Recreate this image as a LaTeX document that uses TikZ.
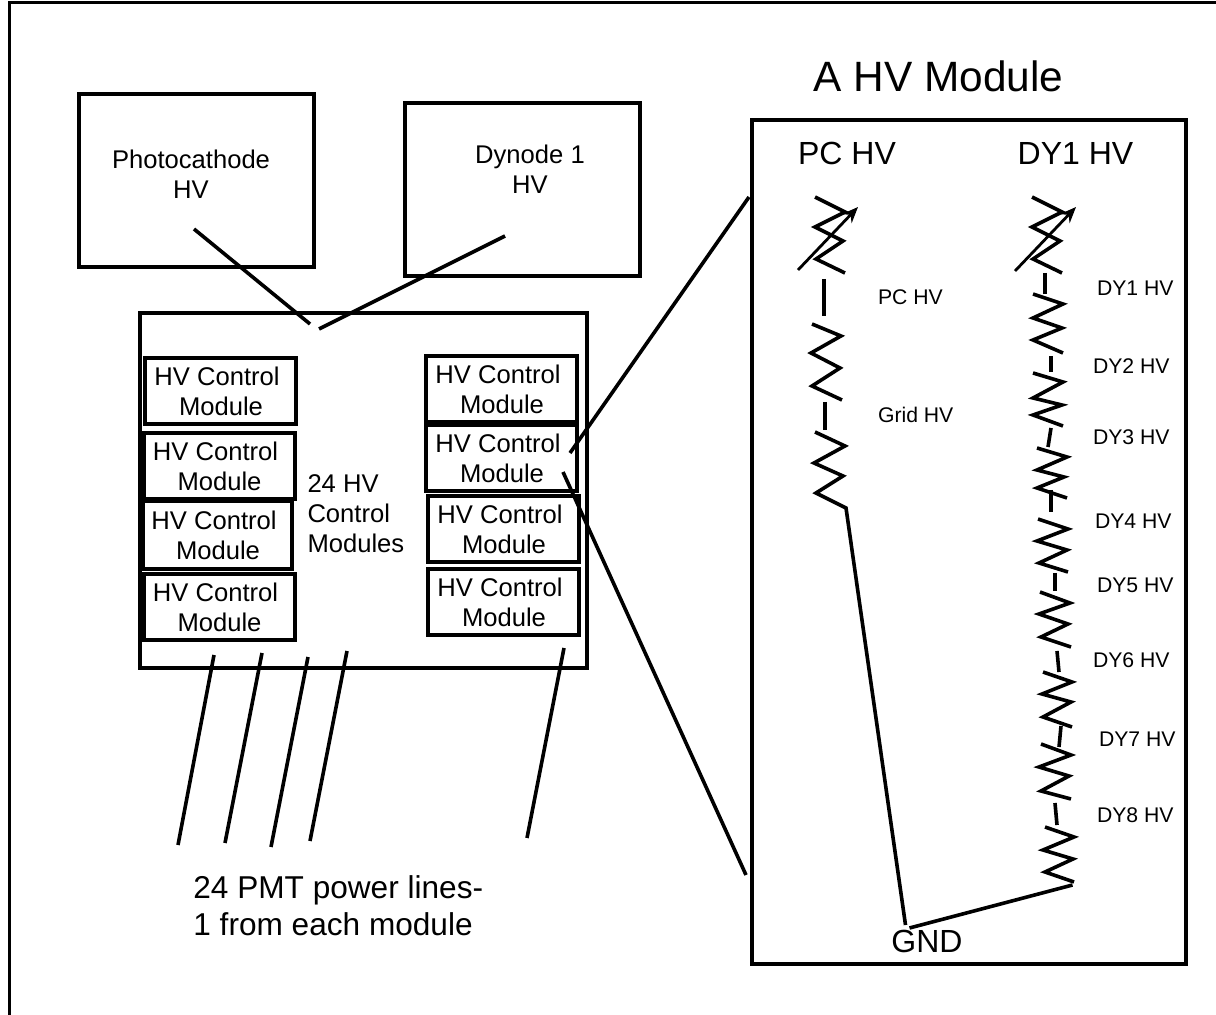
\documentclass[tikz,border=0pt]{standalone}
\usepackage{fontspec}
\setmainfont{Liberation Sans}
\usetikzlibrary{arrows.meta}
\tikzset{
  frameline/.style={line width=1.9pt},
  bigbox/.style={draw,line width=1.7pt,minimum width=#1,inner sep=0pt,outer sep=0pt},
  ctrl/.style={draw,line width=2pt,minimum width=75.5pt,minimum height=33pt,inner sep=0pt,outer sep=0pt,
    align=center,font=\fontsize{12.8}{15}\selectfont},
  lab/.style={inner sep=0pt,outer sep=0pt,font=\fontsize{12.8}{15}\selectfont},
  leftlab/.style={lab,align=left},
  small/.style={inner sep=0pt,outer sep=0pt,anchor=base west,font=\fontsize{10.6}{12}\selectfont},
  col/.style={inner sep=0pt,outer sep=0pt,font=\fontsize{16}{18}\selectfont},
  wire/.style={line width=1.8pt},
  res/.style={line width=1.8pt},
  varr/.style={line width=1.4pt,-{Stealth[length=8pt,width=6.5pt]}}
}
\newcommand{\hvc}{HV Control\rule{3.5pt}{0pt}\\\rule{4pt}{0pt}Module\rule{3.5pt}{0pt}}
\begin{document}
\begin{tikzpicture}[x=0.5pt,y=-0.5pt]
\useasboundingbox (0,0) rectangle (1216,1015);
% outer frame
\coordinate (frameA) at (9.5,1015);
\coordinate (frameB) at (9.5,2.5);
\coordinate (frameC) at (1216,2.5);
\draw[frameline] (frameA) -- (frameB) -- (frameC);
% supply boxes
\node[bigbox=117.5pt,minimum height=86.5pt] (pcbox) at (196.5,180.5) {};
\node[bigbox=117.5pt,minimum height=86.5pt] (dybox) at (522.5,189.5) {};
\node[lab,align=center] (pctext) at (191,174) {Photocathode\\HV};
\node[lab,align=center] (dytext) at (530,169) {Dynode 1\\HV};
% crate
\node[bigbox=223.5pt,minimum height=177.5pt] (crate) at (363.5,490.5) {};
% control modules
\node[ctrl] (L1) at (220.5,391.5) {\hvc};
\node[ctrl] (L2) at (219,466) {\hvc};
\node[ctrl,minimum width=74.5pt,minimum height=34pt] (L3) at (217.5,535) {\hvc};
\node[ctrl] (L4) at (219,607) {\hvc};
\node[ctrl] (R1) at (501.5,389) {\hvc};
\node[ctrl] (R2) at (501.5,458) {\hvc};
\node[ctrl] (R3) at (503.5,529.5) {\hvc};
\node[ctrl] (R4) at (503.5,602.5) {\hvc};
\node[leftlab,anchor=west] (count) at (307.5,514) {24 HV\\Control\\Modules};
% feed lines into the crate
\coordinate (pcfeedA) at (194,229);
\coordinate (pcfeedB) at (310,324);
\coordinate (dyfeedA) at (505,236);
\coordinate (dyfeedB) at (319,329);
\draw[wire] (pcfeedA) -- (pcfeedB);
\draw[wire] (dyfeedA) -- (dyfeedB);
% power lines
\foreach \n/\xa/\ya/\xb/\yb in {a/214/655/178/845,b/262/653/225/843,c/308/657/271/847,d/347/651/310/841,e/564/648/527/838}{
  \coordinate (pw\n A) at (\xa,\ya);
  \coordinate (pw\n B) at (\xb,\yb);
  \draw[wire] (pw\n A) -- (pw\n B);
}
\node[anchor=base west,inner sep=0pt,font=\fontsize{15.8}{18}\selectfont] (pmtA) at (193,898) {24 PMT power lines-};
\node[anchor=base west,inner sep=0pt,font=\fontsize{15.8}{18}\selectfont] (pmtB) at (193,935) {1 from each module};
% module box
\node[inner sep=0pt,anchor=base west,font=\fontsize{21.2}{24}\selectfont] (title) at (813,92) {A HV Module};
\node[bigbox=217pt,minimum height=422pt] (hv) at (969,542) {};
\node[col,anchor=base] (pchead) at (847,165) {PC HV};
\node[col,anchor=base] (dyhead) at (1075.5,165) {DY1 HV};
% zoom lines
\coordinate (zoomA) at (570,453);
\coordinate (zoomB) at (749,197);
\coordinate (zoomC) at (563,472);
\coordinate (zoomD) at (746,875);
\draw[wire] (zoomA) -- (zoomB);
\draw[wire] (zoomC) -- (zoomD);
% PC chain
\draw[res] (815,197)--(845,212)--(815,227)--(843,241)--(816,259)--(845,273);
\coordinate (pcvA) at (798,270); \coordinate (pcvB) at (858,207);
\draw[varr] (pcvA) -- (pcvB);
\draw[wire] (824,279)--(824,316);
\draw[res] (812,324)--(841,336)--(811,353)--(840,368)--(812,386)--(842,400);
\draw[wire] (825,402)--(825,430);
\coordinate (gndA) at (905.5,925);
\coordinate (gndB) at (909.5,928);
\coordinate (dyend) at (1072.5,885);
\draw[res] (815,432)--(845,446)--(814,463)--(843,476)--(816,493)--(846,508)--(gndA);
\draw[res] (gndB)--(dyend);
% DY chain
\draw[res] (1032,197)--(1062,212)--(1032,227)--(1060,241)--(1033,259)--(1062,273);
\coordinate (dyvA) at (1015,271); \coordinate (dyvB) at (1076,207);
\draw[varr] (dyvA) -- (dyvB);
\draw[wire] (1045,273)--(1045,294);
\draw[res] (1033,294)--(1063,304)--(1033,318)--(1062,328)--(1033,340)--(1063,353);
\draw[wire] (1051,356)--(1051,372);
\draw[res] (1033,373)--(1063,382)--(1033,398)--(1062,405)--(1033,415)--(1063,426);
\draw[wire] (1051,428)--(1048,447);
\draw[res] (1037,448)--(1067,457)--(1037,470)--(1064,477)--(1037,488)--(1067,498);
\draw[wire] (1051,490)--(1051,512);
\draw[res] (1038,519)--(1068,529)--(1037,541)--(1067,550)--(1039,563)--(1068,572);
\draw[wire] (1055,573)--(1055,591);
\draw[res] (1040,592)--(1070,603)--(1039,614)--(1068,624)--(1041,637)--(1071,647);
\draw[wire] (1057,651)--(1059,672);
\draw[res] (1043,672)--(1072,682)--(1042,694)--(1071,702)--(1043,717)--(1072,727);
\draw[wire] (1061,726)--(1059,747);
\draw[res] (1041,744)--(1071,755)--(1039,767)--(1069,776)--(1041,791)--(1071,799);
\draw[wire] (1055,803)--(1057,825);
\draw[res] (1045,827)--(1074,837)--(1043,850)--(1073,859)--(1045,872)--(1074,882);
% labels
\node[col] (gndlabel) at (927,941) {GND};
\node[small] (lpc) at (878,305) {PC HV};
\node[small] (lgrid) at (878,423) {Grid HV};
\node[small] (l1) at (1097,296) {DY1 HV};
\node[small] (l2) at (1093,374) {DY2 HV};
\node[small] (l3) at (1093,445) {DY3 HV};
\node[small] (l4) at (1095,529) {DY4 HV};
\node[small] (l5) at (1097,593) {DY5 HV};
\node[small] (l6) at (1093,668) {DY6 HV};
\node[small] (l7) at (1099,747) {DY7 HV};
\node[small] (l8) at (1097,822) {DY8 HV};
\end{tikzpicture}
\end{document}
